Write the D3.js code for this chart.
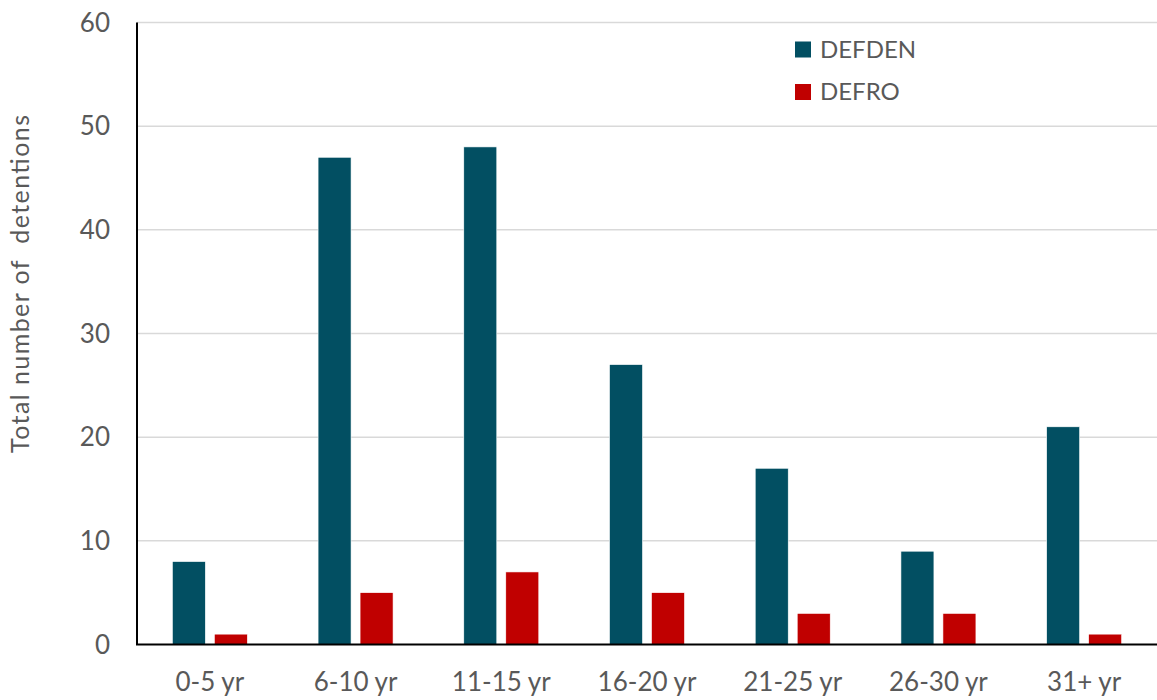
<!DOCTYPE html>
<html>
<head>
  <meta charset="UTF-8">
  <title>Detentions by age</title>
  <script src="https://d3js.org/d3.v7.min.js"></script>
  <style>
    body { margin: 0; background: #fff; font-family: Lato, "Open Sans", sans-serif; }
    .tick-label { fill: #595959; font-size: 26px; }
    .grid { stroke: #d9d9d9; stroke-width: 1.5; }
  </style>
</head>
<body>
  <div id="chart"></div>
  <script>
    const categories = ["0-5 yr", "6-10 yr", "11-15 yr", "16-20 yr", "21-25 yr", "26-30 yr", "31+ yr"];
    const defden = [8, 47, 48, 27, 17, 9, 21];
    const defro = [1, 5, 7, 5, 3, 3, 1];
    const yTicks = [0, 10, 20, 30, 40, 50, 60];
    const seriesNames = ["DEFDEN", "DEFRO"];
    const colors = ["#024F62", "#C00000"];

    const W = 1157, H = 700;
    const margin = { top: 22.5, right: 0, bottom: 55, left: 137 };
    const width = W - margin.left - margin.right;
    const height = 644.5 - margin.top;

    const svg = d3.select("#chart").append("svg")
      .attr("width", W).attr("height", H);
    const g = svg.append("g").attr("transform", `translate(${margin.left},${margin.top})`);

    const x = d3.scaleBand().domain(categories).range([0, width]);
    const y = d3.scaleLinear().domain([0, 60]).range([height, 0]);

    // gridlines
    g.selectAll(".grid").data(yTicks.filter(d => d > 0)).enter()
      .append("line").attr("class", "grid")
      .attr("x1", 0).attr("x2", width)
      .attr("y1", d => y(d)).attr("y2", d => y(d));

    // y tick labels
    g.selectAll(".ylab").data(yTicks).enter()
      .append("text").attr("class", "tick-label")
      .attr("x", -27).attr("y", d => y(d))
      .attr("dy", "0.35em").attr("text-anchor", "end")
      .text(d => d);

    // bars
    const barW = 33, gap = 9;
    const series = [defden, defro];
    series.forEach((vals, s) => {
      g.selectAll(".bar" + s).data(vals).enter()
        .append("rect")
        .attr("x", (d, i) => x(categories[i]) + x.bandwidth() / 2 + (s === 0 ? -gap / 2 - barW : gap / 2))
        .attr("y", d => y(d))
        .attr("width", barW)
        .attr("height", d => y(0) - y(d))
        .attr("fill", colors[s])
        .attr("stroke", "#fff").attr("stroke-width", 0.6);
    });

    // axes lines
    g.append("line").attr("x1", 0).attr("x2", 0).attr("y1", 0).attr("y2", height)
      .attr("stroke", "#000").attr("stroke-width", 2);
    g.append("line").attr("x1", -1).attr("x2", width).attr("y1", height).attr("y2", height)
      .attr("stroke", "#000").attr("stroke-width", 2);

    // x labels
    g.selectAll(".xlab").data(categories).enter()
      .append("text").attr("class", "tick-label")
      .attr("x", d => x(d) + x.bandwidth() / 2)
      .attr("y", height + 46)
      .attr("text-anchor", "middle")
      .text(d => d);

    // y axis title
    svg.append("text")
      .attr("transform", "translate(29, 284) rotate(-90)")
      .attr("text-anchor", "middle")
      .attr("fill", "#595959").style("font-size", "25px")
      .attr("textLength", 338).attr("lengthAdjust", "spacing")
      .text("Total number of \u00a0detentions");

    // legend
    const legend = svg.append("g").attr("transform", "translate(795, 41.5)");
    seriesNames.forEach((name, i) => {
      const row = legend.append("g").attr("transform", `translate(0, ${i * 42.5})`);
      row.append("rect").attr("width", 16).attr("height", 16).attr("fill", colors[i]);
      row.append("text").attr("class", "tick-label").style("font-size", "24px")
        .attr("x", 25).attr("y", 16).text(name);
    });
  </script>
</body>
</html>
